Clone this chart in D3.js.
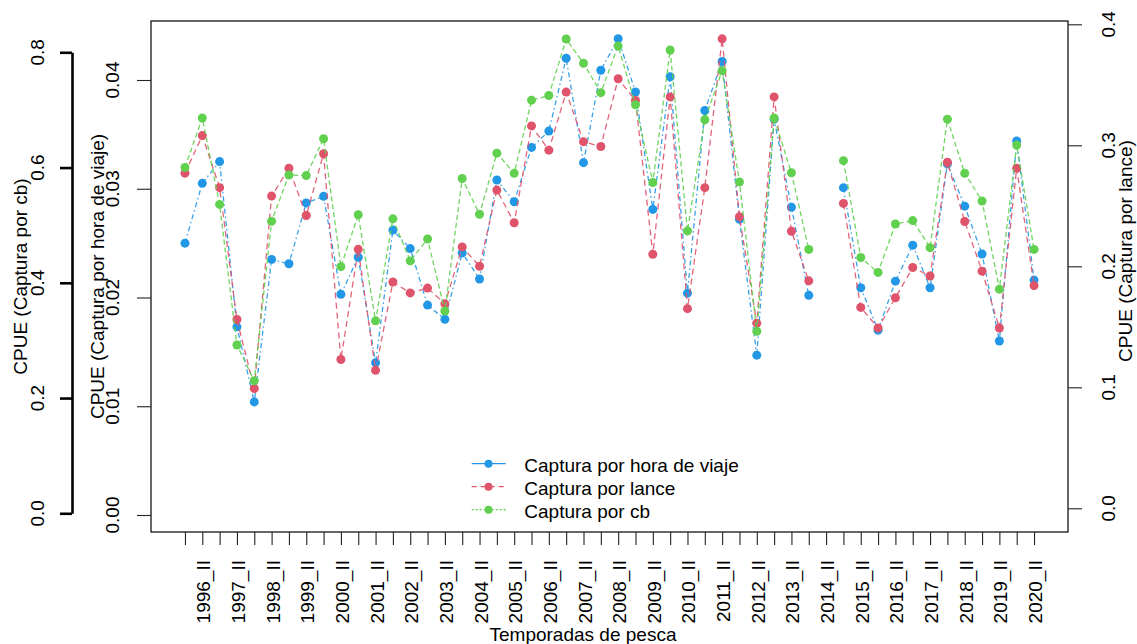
<!DOCTYPE html>
<html>
<head>
<meta charset="utf-8">
<script src="https://cdn.jsdelivr.net/npm/d3@7"></script>
<style>
  body { margin: 0; background: #fff; }
  svg { display: block; }
  text { font-family: "Liberation Sans", Arial, sans-serif; fill: #000; }
</style>
</head>
<body>
<svg id="chart" width="1137" height="644"></svg>
<script>
// Fishing seasons: two per year (I and II), 1996 to 2020
const years = d3.range(1996, 2021);
const seasons = years.flatMap(y => [y + "_I", y + "_II"]);

// CPUE as catch per trip hour (null = no data that season)
const horaViaje = [
  0.0250, 0.0305, 0.0325, 0.0173, 0.0104, 0.0235, 0.0231, 0.0287, 0.0293, 0.0203,
  0.0237, 0.0140, 0.0262, 0.0245, 0.0193, 0.0180, 0.0241, 0.0217, 0.0308, 0.0288,
  0.0338, 0.0353, 0.0420, 0.0324, 0.0409, 0.0438, 0.0389, 0.0281, 0.0403, 0.0204,
  0.0372, 0.0417, 0.0272, 0.0147, 0.0364, 0.0283, 0.0202, null,   0.0301, 0.0209,
  0.0170, 0.0215, 0.0248, 0.0209, 0.0323, 0.0284, 0.0240, 0.0160, 0.0344, 0.0216
];
// CPUE as catch per haul
const lance = [
  0.277, 0.308, 0.265, 0.156, 0.099, 0.258, 0.281, 0.242, 0.293, 0.123,
  0.214, 0.114, 0.187, 0.178, 0.182, 0.169, 0.216, 0.200, 0.263, 0.236,
  0.316, 0.296, 0.344, 0.303, 0.299, 0.355, 0.337, 0.210, 0.340, 0.165,
  0.265, 0.388, 0.241, 0.153, 0.340, 0.229, 0.188, null,  0.252, 0.166,
  0.149, 0.174, 0.199, 0.192, 0.286, 0.237, 0.196, 0.149, 0.281, 0.184
];
// CPUE as catch per cb
const cb = [
  0.600, 0.686, 0.536, 0.292, 0.230, 0.507, 0.587, 0.586, 0.650, 0.428,
  0.518, 0.334, 0.511, 0.438, 0.476, 0.351, 0.581, 0.519, 0.625, 0.590,
  0.717, 0.725, 0.823, 0.781, 0.730, 0.811, 0.709, 0.574, 0.804, 0.490,
  0.683, 0.768, 0.575, 0.316, 0.686, 0.591, 0.458, null,  0.612, 0.444,
  0.418, 0.502, 0.508, 0.461, 0.684, 0.590, 0.542, 0.389, 0.639, 0.458
];

const horaTicks = [0, 0.01, 0.02, 0.03, 0.04];
const lanceTicks = [0, 0.1, 0.2, 0.3, 0.4];
const cbTicks = [0, 0.2, 0.4, 0.6, 0.8];

const labels = {
  x: "Temporadas de pesca",
  hora: "CPUE (Captura por hora de viaje)",
  lance: "CPUE (Captura por lance)",
  cb: "CPUE (Captura por cb)"
};
const legendNames = ["Captura por hora de viaje", "Captura por lance", "Captura por cb"];

// ---- layout ----
const box = { left: 151, right: 1068, top: 21, bottom: 532 };
const FS = 19;
const colors = { hora: "#2297E6", lance: "#DF536B", cb: "#61D04F" };

const svg = d3.select("#chart");

// x: one slot per season, padded like a base-R plot (4% each side)
const n = seasons.length;
const pad = 0.04 * (n - 1);
const x = d3.scaleLinear().domain([1 - pad, n + pad]).range([box.left, box.right]);

const yHora = d3.scaleLinear().domain([0, 0.04]).range([515, 80]);
const yLance = d3.scaleLinear().domain([0, 0.4]).range([508.3, 24.3]);
const yCb = d3.scaleLinear().domain([0, 0.8]).range([513.3, 52.3]);

// plot frame
svg.append("rect")
  .attr("x", box.left).attr("y", box.top)
  .attr("width", box.right - box.left).attr("height", box.bottom - box.top)
  .attr("fill", "none").attr("stroke", "#000").attr("stroke-width", 1.2);

// ---- x axis ----
const xAxis = svg.append("g")
  .attr("transform", `translate(0,${box.bottom})`)
  .call(d3.axisBottom(x).tickValues(d3.range(1, n + 1)).tickFormat("").tickSize(13).tickSizeOuter(0));
xAxis.select(".domain").remove();
xAxis.selectAll(".tick line").attr("stroke", "#222").attr("stroke-width", 1.1);

svg.append("g").selectAll("text")
  .data(seasons.map((s, i) => ({ s, i })).filter(d => d.s.endsWith("_II")))
  .join("text")
  .attr("transform", d => `translate(${x(d.i + 1) + 8},560) rotate(-90)`)
  .attr("text-anchor", "end")
  .attr("font-size", FS)
  .text(d => d.s);

svg.append("text")
  .attr("x", 583).attr("y", 641)
  .attr("text-anchor", "middle").attr("font-size", FS)
  .text(labels.x);

// ---- inner left axis (per trip hour) ----
const axH = svg.append("g")
  .attr("transform", `translate(${box.left},0)`)
  .call(d3.axisLeft(yHora).tickValues(horaTicks).tickFormat("").tickSize(14));
axH.select(".domain").remove();
axH.selectAll(".tick line").attr("stroke", "#222").attr("stroke-width", 1.1);
svg.append("g").selectAll("text").data(horaTicks).join("text")
  .attr("transform", d => `translate(118.5,${yHora(d)}) rotate(-90)`)
  .attr("text-anchor", "middle").attr("font-size", FS)
  .text(d3.format(".2f"));
svg.append("text")
  .attr("transform", `translate(103.5,${(box.top + box.bottom) / 2}) rotate(-90)`)
  .attr("text-anchor", "middle").attr("font-size", FS)
  .text(labels.hora);

// ---- outer left axis (per cb) ----
const axC = svg.append("g")
  .attr("transform", "translate(72,0)")
  .call(d3.axisLeft(yCb).tickValues(cbTicks).tickFormat("").tickSize(12).tickSizeOuter(0));
axC.select(".domain").attr("stroke", "#000").attr("stroke-width", 2.6);
axC.selectAll(".tick line").attr("stroke", "#000").attr("stroke-width", 2.6);
svg.append("g").selectAll("text").data(cbTicks).join("text")
  .attr("transform", d => `translate(44,${yCb(d)}) rotate(-90)`)
  .attr("text-anchor", "middle").attr("font-size", FS)
  .text(d3.format(".1f"));
svg.append("text")
  .attr("transform", `translate(26.5,${(box.top + box.bottom) / 2}) rotate(-90)`)
  .attr("text-anchor", "middle").attr("font-size", FS)
  .text(labels.cb);

// ---- right axis (per haul) ----
const axL = svg.append("g")
  .attr("transform", `translate(${box.right},0)`)
  .call(d3.axisRight(yLance).tickValues(lanceTicks).tickFormat("").tickSize(14));
axL.select(".domain").remove();
axL.selectAll(".tick line").attr("stroke", "#222").attr("stroke-width", 1.1);
svg.append("g").selectAll("text").data(lanceTicks).join("text")
  .attr("transform", d => `translate(1115,${yLance(d)}) rotate(-90)`)
  .attr("text-anchor", "middle").attr("font-size", FS)
  .text(d3.format(".1f"));
svg.append("text")
  .attr("transform", "translate(1132,251) rotate(-90)")
  .attr("text-anchor", "middle").attr("font-size", FS)
  .text(labels.lance);

// ---- series ----
const series = [
  { key: "hora", values: horaViaje, y: yHora, dash: "5,3,1.5,3" },
  { key: "lance", values: lance, y: yLance, dash: "6,4" },
  { key: "cb", values: cb, y: yCb, dash: "5,3" }
];

series.forEach(s => {
  const pts = s.values.map((v, i) => ({ i: i + 1, v }));
  const line = d3.line()
    .defined(d => d.v != null)
    .x(d => x(d.i)).y(d => s.y(d.v));
  const g = svg.append("g");
  g.append("path")
    .datum(pts)
    .attr("d", line)
    .attr("fill", "none")
    .attr("stroke", colors[s.key])
    .attr("stroke-width", 1.3)
    .attr("stroke-dasharray", s.dash)
    .attr("opacity", 0.9);
  g.selectAll("circle")
    .data(pts.filter(d => d.v != null))
    .join("circle")
    .attr("cx", d => x(d.i)).attr("cy", d => s.y(d.v))
    .attr("r", 4.5)
    .attr("fill", colors[s.key]);
});

// ---- legend ----
const legendDash = [null, "5,4", "2,2"];
const legend = svg.append("g");
["hora", "lance", "cb"].forEach((k, j) => {
  const base = 471.7 + j * 23;
  const ly = base - 8;
  legend.append("line")
    .attr("x1", 471.7).attr("x2", 505.7).attr("y1", ly).attr("y2", ly)
    .attr("stroke", colors[k]).attr("stroke-width", 1.3)
    .attr("stroke-dasharray", legendDash[j]);
  legend.append("circle")
    .attr("cx", 488.5).attr("cy", ly).attr("r", 4)
    .attr("fill", colors[k]);
  legend.append("text")
    .attr("x", 524.3).attr("y", base)
    .attr("font-size", FS)
    .text(legendNames[j]);
});
</script>
</body>
</html>
